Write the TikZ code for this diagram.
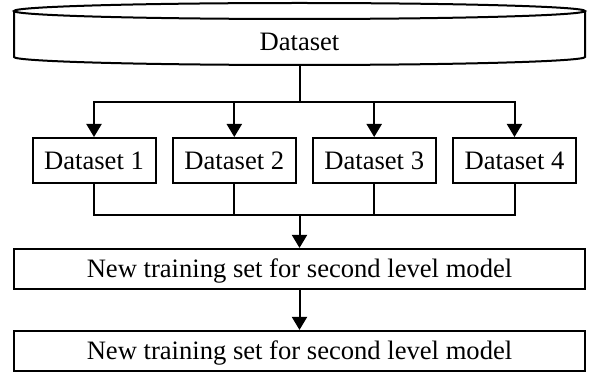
\documentclass[tikz,border=0pt]{standalone}
\usepackage{fontspec}
\setmainfont{Liberation Serif}
\usetikzlibrary{arrows.meta}
\begin{document}
\begin{tikzpicture}[x=1pt,y=-1pt,
  every node/.style={font=\fontsize{26.6pt}{30pt}\selectfont, inner sep=0pt},
  line/.style={line width=2pt},
  arr/.style={line width=2pt, -{Triangle[width=15pt,length=13pt]}},
  dsbox/.style={draw, line width=2pt, minimum width=123pt, minimum height=45pt, text height=17.6pt, text depth=0pt},
  widebox/.style={draw, line width=2pt, minimum width=571pt, minimum height=40.5pt, text height=17.6pt, text depth=0pt}]
\useasboundingbox (0,0) rectangle (590,374);
% cylinder
\node[minimum width=571pt, minimum height=62pt, text height=33.4pt, text depth=0pt] (ds) at (299.5,34) {Dataset};
\draw[line] (14,11) -- (14,57) arc[start angle=180, end angle=0, x radius=285.5, y radius=8] -- (585,11);
\draw[line] (299.5,11) ellipse [x radius=285.5, y radius=8];
% dataset boxes
\node[dsbox] (d1) at (94,160.5) {Dataset 1};
\node[dsbox] (d2) at (234.3,160.5) {Dataset 2};
\node[dsbox] (d3) at (374.2,160.5) {Dataset 3};
\node[dsbox] (d4) at (514.5,160.5) {Dataset 4};
% wide boxes
\node[widebox] (n1) at (299.5,269.2) {New training set for second level model};
\node[widebox] (n2) at (299.5,351.2) {New training set for second level model};
% connectors
\coordinate (br) at (299.5,102);
\coordinate (m) at (299.5,215);
\draw[line] (ds.south) -- (br);
\draw[arr] (br) -| (d1.north);
\draw[arr] (br) -| (d2.north);
\draw[arr] (br) -| (d3.north);
\draw[arr] (br) -| (d4.north);
\draw[line] (d1.south) |- (m);
\draw[line] (d2.south) |- (m);
\draw[line] (d3.south) |- (m);
\draw[line] (d4.south) |- (m);
\draw[arr] (m) -- (n1.north);
\draw[arr] (n1.south) -- (n2.north);
\end{tikzpicture}
\end{document}
